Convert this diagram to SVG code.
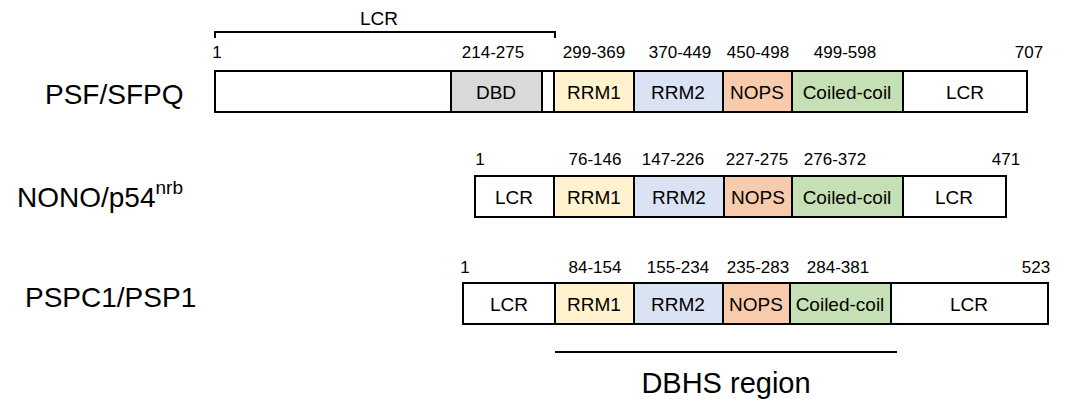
<svg xmlns="http://www.w3.org/2000/svg" width="1065" height="399" viewBox="0 0 1065 399">
  <style>
    text { font-family: "Liberation Sans", Arial, sans-serif; fill: #000; }
    .name { font-size: 28px; }
    .num { font-size: 17px; text-anchor: middle; }
    .dom { font-size: 19px; text-anchor: middle; }
    .seg { stroke: #000; stroke-width: 2; }
    .lcr { fill: #ffffff; }
    .dbd { fill: #d9d9d9; }
    .rrm1 { fill: #fff2cc; }
    .rrm2 { fill: #dae3f3; }
    .nops { fill: #f8cbad; }
    .cc { fill: #c5e0b4; }
    .line { stroke: #000; stroke-width: 2; fill: none; }
  </style>

  <!-- PSF/SFPQ -->
  <g id="psf">
    <text class="name" x="45" y="104" font-size="29.5">PSF/SFPQ</text>
    <path class="line" d="M215,38 V32 H555 V38"/>
    <text class="dom" x="379" y="25">LCR</text>
    <rect class="seg lcr" x="215" y="71" width="236" height="41"/>
    <rect class="seg dbd" x="451" y="71" width="91" height="41"/>
    <rect class="seg lcr" x="542" y="71" width="12" height="41"/>
    <rect class="seg rrm1" x="554" y="71" width="80" height="41"/>
    <rect class="seg rrm2" x="634" y="71" width="89" height="41"/>
    <rect class="seg nops" x="723" y="71" width="69" height="41"/>
    <rect class="seg cc" x="792" y="71" width="111" height="41"/>
    <rect class="seg lcr" x="903" y="71" width="124" height="41"/>
    <text class="dom" x="496" y="99">DBD</text>
    <text class="dom" x="594" y="99">RRM1</text>
    <text class="dom" x="678" y="99">RRM2</text>
    <text class="dom" x="757" y="99">NOPS</text>
    <text class="dom" x="847" y="99">Coiled-coil</text>
    <text class="dom" x="965" y="99">LCR</text>
    <text class="num" x="217" y="58">1</text>
    <text class="num" x="493" y="58">214-275</text>
    <text class="num" x="594" y="58">299-369</text>
    <text class="num" x="680" y="58">370-449</text>
    <text class="num" x="758" y="58">450-498</text>
    <text class="num" x="845" y="58">499-598</text>
    <text class="num" x="1029" y="58">707</text>
  </g>

  <!-- NONO/p54nrb -->
  <g id="nono">
    <text class="name" x="17" y="207" font-size="28.5">NONO/p54<tspan font-size="19" dy="-13">nrb</tspan></text>
    <rect class="seg lcr" x="475" y="176" width="79" height="41"/>
    <rect class="seg rrm1" x="554" y="176" width="80" height="41"/>
    <rect class="seg rrm2" x="634" y="176" width="90" height="41"/>
    <rect class="seg nops" x="724" y="176" width="68" height="41"/>
    <rect class="seg cc" x="792" y="176" width="111" height="41"/>
    <rect class="seg lcr" x="903" y="176" width="103" height="41"/>
    <text class="dom" x="514" y="204">LCR</text>
    <text class="dom" x="594" y="204">RRM1</text>
    <text class="dom" x="679" y="204">RRM2</text>
    <text class="dom" x="758" y="204">NOPS</text>
    <text class="dom" x="847" y="204">Coiled-coil</text>
    <text class="dom" x="954" y="204">LCR</text>
    <text class="num" x="480" y="165">1</text>
    <text class="num" x="595" y="165">76-146</text>
    <text class="num" x="673" y="165">147-226</text>
    <text class="num" x="757" y="165">227-275</text>
    <text class="num" x="835" y="165">276-372</text>
    <text class="num" x="1006" y="165">471</text>
  </g>

  <!-- PSPC1/PSP1 -->
  <g id="pspc1">
    <text class="name" x="25" y="307">PSPC1/PSP1</text>
    <rect class="seg lcr" x="463" y="283" width="92" height="41"/>
    <rect class="seg rrm1" x="555" y="283" width="79" height="41"/>
    <rect class="seg rrm2" x="634" y="283" width="89" height="41"/>
    <rect class="seg nops" x="723" y="283" width="67" height="41"/>
    <rect class="seg cc" x="790" y="283" width="101" height="41"/>
    <rect class="seg lcr" x="891" y="283" width="157" height="41"/>
    <text class="dom" x="509" y="311">LCR</text>
    <text class="dom" x="594" y="311">RRM1</text>
    <text class="dom" x="678" y="311">RRM2</text>
    <text class="dom" x="756" y="311">NOPS</text>
    <text class="dom" x="840" y="311">Coiled-coil</text>
    <text class="dom" x="969" y="311">LCR</text>
    <text class="num" x="465" y="273">1</text>
    <text class="num" x="595" y="273">84-154</text>
    <text class="num" x="678" y="273">155-234</text>
    <text class="num" x="758" y="273">235-283</text>
    <text class="num" x="838" y="273">284-381</text>
    <text class="num" x="1036" y="273">523</text>
  </g>

  <!-- DBHS region bar -->
  <g id="dbhs">
    <line class="line" x1="555" y1="352" x2="897" y2="352"/>
    <text x="726" y="393" font-size="29" text-anchor="middle">DBHS region</text>
  </g>
</svg>
